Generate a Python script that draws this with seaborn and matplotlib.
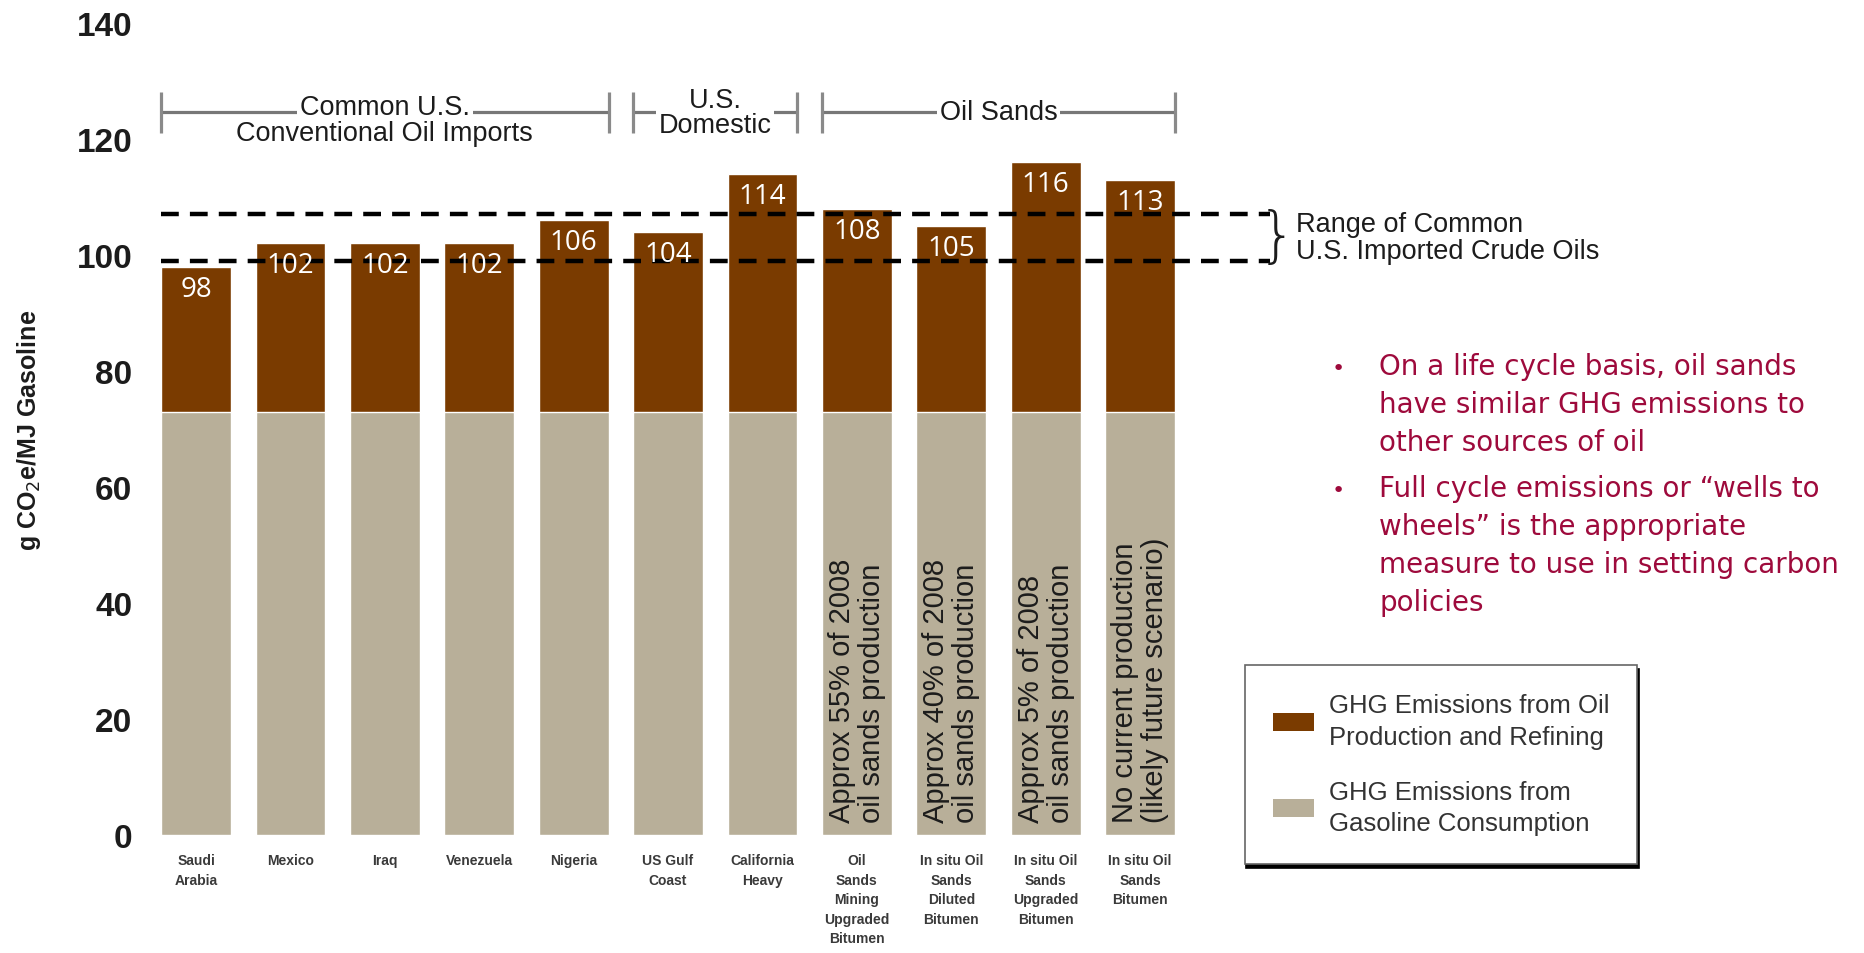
import matplotlib
matplotlib.use("Agg")
import matplotlib.pyplot as plt
import pandas as pd
import seaborn as sns
from matplotlib.patches import Patch

# ---- data -------------------------------------------------------------
categories = [
    "Saudi\nArabia", "Mexico", "Iraq", "Venezuela", "Nigeria",
    "US Gulf\nCoast", "California\nHeavy",
    "Oil\nSands\nMining\nUpgraded\nBitumen",
    "In situ Oil\nSands\nDiluted\nBitumen",
    "In situ Oil\nSands\nUpgraded\nBitumen",
    "In situ Oil\nSands\nBitumen",
]
total_ghg = [98, 102, 102, 102, 106, 104, 114, 108, 105, 116, 113]
gasoline_ghg = [73, 73, 73, 73, 73, 73, 73, 73, 73, 73, 73]

group_titles = ["Common U.S.", "U.S.\nDomestic", "Oil Sands"]
group_subtitles = ["Conventional Oil Imports", "", ""]
group_first = [0, 5, 7]
group_last = [4, 6, 10]

share_notes = {
    7: "Approx 55% of 2008\noil sands production",
    8: "Approx 40% of 2008\noil sands production",
    9: "Approx 5% of 2008\noil sands production",
    10: "No current production\n(likely future scenario)",
}
import_range = [99, 107]
range_label = "Range of Common\nU.S. Imported Crude Oils"

bullets = [
    "On a life cycle basis, oil sands\nhave similar GHG emissions to\nother sources of oil",
    "Full cycle emissions or \u201cwells to\nwheels\u201d is the appropriate\nmeasure to use in setting carbon\npolicies",
]
legend_labels = ["GHG Emissions from Oil\nProduction and Refining",
                 "GHG Emissions from\nGasoline Consumption"]

# ---- style ------------------------------------------------------------
BROWN = "#7A3B00"
TAN = "#B8AF99"
CRIMSON = "#9E0A3C"
INK = "#1c1c1c"

sns.set_theme(style="white")
plt.rcParams["font.family"] = ["Liberation Sans", "DejaVu Sans"]

W, H = 1864, 954
fig = plt.figure(figsize=(W / 100, H / 100), dpi=100)


def fx(px):
    return px / W


def fy(py):
    return 1 - py / H


ax = fig.add_axes([fx(139.4), fy(836), 1151.7 / W, 812 / H])

df = pd.DataFrame({"source": categories, "total": total_ghg, "gasoline": gasoline_ghg})
sns.barplot(data=df, x="source", y="total", color=BROWN, saturation=1,
            width=0.74, ax=ax, zorder=2)
sns.barplot(data=df, x="source", y="gasoline", color=TAN, saturation=1,
            width=0.74, ax=ax, zorder=2)

ax.set_xlim(-0.6, 11.6)
ax.set_ylim(0, 140)
ax.set_yticks(range(0, 141, 20))
sns.despine(ax=ax, left=True, bottom=True)
ax.grid(False)
ax.tick_params(axis="both", length=0)
ax.tick_params(axis="y", pad=5)
for lab in ax.get_yticklabels():
    lab.set_fontsize(24)
    lab.set_fontweight("bold")
    lab.set_color(INK)
ax.tick_params(axis="x", pad=13)
for lab in ax.get_xticklabels():
    lab.set_fontsize(10)
    lab.set_fontweight("bold")
    lab.set_color("#3a3a3a")
    lab.set_linespacing(1.5)
    lab.set_verticalalignment("top")
ax.set_xlabel("")
ax.set_ylabel("g CO$_2$e/MJ Gasoline", fontsize=18, fontweight="bold", color=INK)
ax.yaxis.set_label_coords(-0.084, 0.5)

half = 0.37

# range of imported crudes
for level in import_range:
    ax.plot([-half, 11.38], [level, level], color="black", lw=3.2,
            ls=(0, (4, 2.5)), zorder=3, clip_on=False)
ax.text(11.45, sum(import_range) / 2, "}", fontsize=44, ha="center", va="center",
        color=INK, family="DejaVu Sans", fontweight="light")
ax.text(11.65, sum(import_range) / 2, range_label, fontsize=19.5, ha="left",
        va="center", color=INK, linespacing=1.05, clip_on=False)

# value labels on bars
for i, v in enumerate(total_ghg):
    ax.text(i, v - 3.8, f"{v}", ha="center", va="center", color="white",
            fontsize=20, family="Open Sans", zorder=5)

# production share notes
for i, note in share_notes.items():
    ax.text(i, 2.2, note, rotation=90, ha="center", va="bottom",
            multialignment="left", fontsize=21, color=INK,
            linespacing=1.08, zorder=5)

# group brackets
rule_y, tick_lo, tick_hi = 124.6, 121.1, 128.1
for title, sub, a, b in zip(group_titles, group_subtitles, group_first, group_last):
    x0, x1 = a - half, b + half
    ax.plot([x0, x1], [rule_y, rule_y], color="#777777", lw=2.3,
            zorder=3, clip_on=False, solid_capstyle="butt")
    for xe in (x0, x1):
        ax.plot([xe, xe], [tick_lo, tick_hi], color="#8a8a8a", lw=2.3,
                zorder=3, clip_on=False, solid_capstyle="butt")
    xc = (x0 + x1) / 2
    ty = rule_y + (1.0 if sub else 0)
    ax.text(xc, ty, title, ha="center", va="center", fontsize=19.5,
            color=INK, linespacing=0.95, zorder=4,
            bbox=dict(facecolor="white", edgecolor="none", pad=2))
    if sub:
        ax.text(xc, rule_y - 3.5, sub, ha="center", va="center",
                fontsize=19.5, color=INK, zorder=4)

# legend
handles = [Patch(facecolor=BROWN, edgecolor="none"),
           Patch(facecolor=TAN, edgecolor="none")]
leg = fig.legend(handles, legend_labels, loc="upper left",
                 bbox_to_anchor=(fx(1245), fy(666)), frameon=True,
                 fancybox=False, shadow={"ox": 1, "oy": -3, "color": "black", "alpha": 1},
                 fontsize=18.5, borderpad=1.1, handlelength=1.6, handleheight=0.7,
                 handletextpad=0.55, labelspacing=1.2, borderaxespad=0)
leg.get_frame().set_edgecolor("#666666")
leg.get_frame().set_linewidth(1.2)
for t in leg.get_texts():
    t.set_color("#333333")
    t.set_linespacing(1.4)

# key messages
tops = [353, 475]
for top, msg in zip(tops, bullets):
    fig.text(fx(1338), fy(top + 6), "\u2022", fontsize=16, color=CRIMSON,
             family="DejaVu Sans", ha="center", va="top")
    fig.text(fx(1379), fy(top), msg, fontsize=20, color=CRIMSON,
             family="DejaVu Sans", ha="left", va="top", linespacing=1.45)

fig.savefig("out.png", dpi=100, facecolor="white")
